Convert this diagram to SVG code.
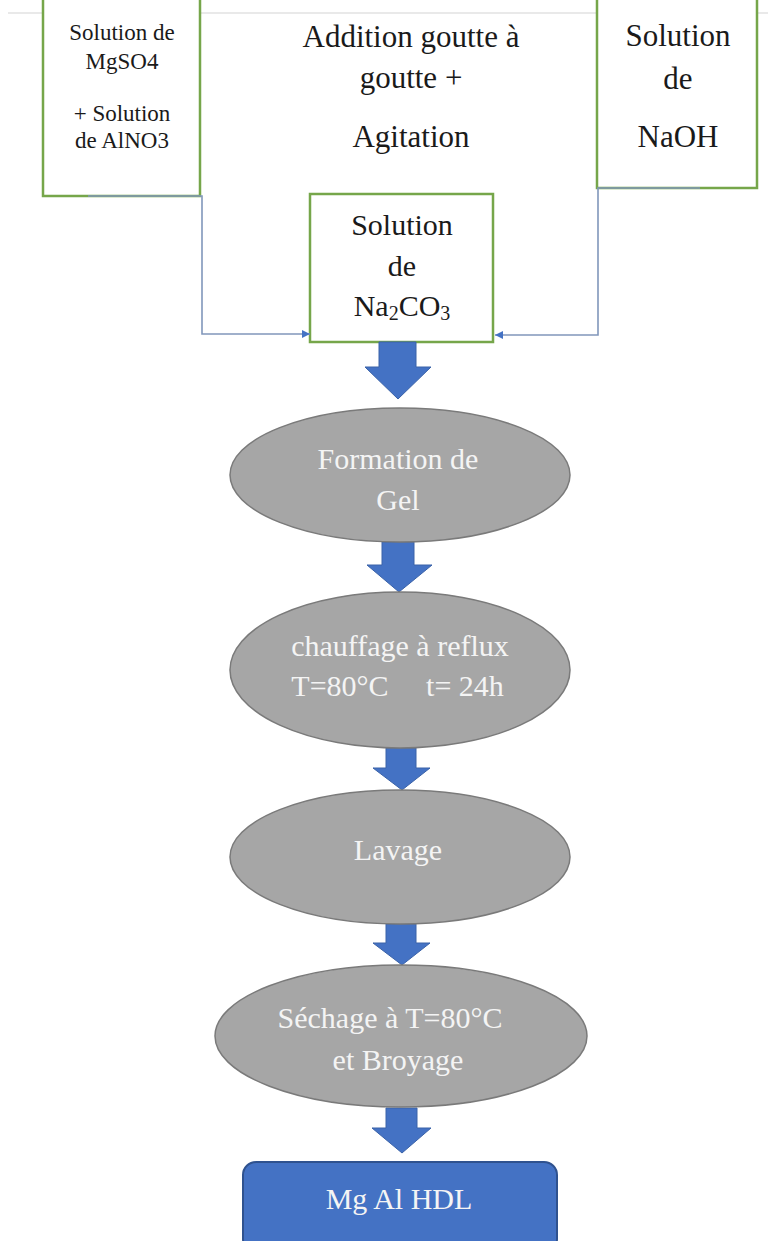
<svg xmlns="http://www.w3.org/2000/svg" width="768" height="1241" viewBox="0 0 768 1241">
<style>
.box{fill:#ffffff;stroke:#76a64a;stroke-width:2.5}
.ell{fill:#a6a6a6;stroke:#7a7a7a;stroke-width:1.5}
.blk{fill:#4472c4;stroke:#3a62a8;stroke-width:1}
.con{fill:none;stroke:#8197bb;stroke-width:1.6}
.t{text-anchor:middle;fill:#1a1a1a}
.w{text-anchor:middle;fill:#f4f4f4}
</style>
<defs>
<marker id="ah" viewBox="0 0 10 10" refX="10" refY="5" markerWidth="8" markerHeight="8" markerUnits="userSpaceOnUse" orient="auto">
<path d="M0,0 L10,5 L0,10 z" fill="#4472c4"/>
</marker>
</defs>
<rect width="768" height="1241" fill="#ffffff"/>
<line x1="8" y1="13" x2="768" y2="13" stroke="#e2e2e2" stroke-width="1.5"/>

<g id="mgso4">
<path class="box" d="M43,-5 L43,196 L200,196 L200,-5"/>
<text class="t" font-family="Liberation Serif" font-size="23"><tspan x="122" y="40">Solution de</tspan><tspan x="122" y="69">MgSO4</tspan><tspan x="122" y="121">+ Solution</tspan><tspan x="122" y="148">de AlNO3</tspan></text>
</g>

<g id="addition">
<text class="t" font-family="Liberation Serif" font-size="31"><tspan x="411" y="47">Addition goutte à</tspan><tspan x="411" y="88">goutte +</tspan><tspan x="411" y="147">Agitation</tspan></text>
</g>

<g id="naoh">
<path class="box" d="M597,-5 L597,188 L757,188 L757,-5"/>
<text class="t" font-family="Liberation Serif" font-size="31"><tspan x="678" y="46">Solution</tspan><tspan x="678" y="89">de</tspan><tspan x="678" y="147">NaOH</tspan></text>
</g>

<g id="na2co3">
<rect class="box" x="310" y="194" width="183" height="148"/>
<text class="t" font-family="Liberation Serif" font-size="30"><tspan x="402" y="235">Solution</tspan><tspan x="402" y="276">de</tspan><tspan x="402" y="316">Na<tspan font-size="20" dy="4">2</tspan><tspan dy="-4">CO</tspan><tspan font-size="20" dy="4">3</tspan></tspan></text>
</g>

<g id="connectors">
<path class="con" d="M88,196 L202,196 L202,334 L310,334" marker-end="url(#ah)"/>
<path class="con" d="M700,188 L598,188 L598,335 L495,335" marker-end="url(#ah)"/>
<path class="blk" d="M379,342 L416,342 L416,367 L431,367 L398,399 L365,367 L379,367 z"/>
<path class="blk" d="M382,542 L414,542 L414,565 L432,565 L399,592 L367,565 L382,565 z"/>
<path class="blk" d="M386,748 L416,748 L416,768 L430,768 L402,790 L373,768 L386,768 z"/>
<path class="blk" d="M386,924 L416,924 L416,943 L430,943 L402,965 L373,943 L386,943 z"/>
<path class="blk" d="M386,1108 L417,1108 L417,1128 L431,1128 L402,1153 L372,1128 L386,1128 z"/>
</g>

<g id="gel">
<ellipse class="ell" cx="400" cy="475" rx="170" ry="67"/>
<text class="w" font-family="Liberation Serif" font-size="30"><tspan x="398" y="469">Formation de</tspan><tspan x="398" y="510">Gel</tspan></text>
</g>

<g id="chauffage">
<ellipse class="ell" cx="400" cy="670" rx="170" ry="78"/>
<text class="w" font-family="Liberation Serif" font-size="30"><tspan x="400" y="656">chauffage à reflux</tspan></text>
<text class="w" font-family="Liberation Serif" font-size="30"><tspan x="340" y="696">T=80°C</tspan><tspan x="465" y="696">t= 24h</tspan></text>
</g>

<g id="lavage">
<ellipse class="ell" cx="400" cy="857" rx="170" ry="67"/>
<text class="w" font-family="Liberation Serif" font-size="30" x="398" y="860">Lavage</text>
</g>

<g id="sechage">
<ellipse class="ell" cx="401" cy="1036" rx="186" ry="71"/>
<text class="w" font-family="Liberation Serif" font-size="30"><tspan x="390" y="1028">Séchage à T=80°C</tspan><tspan x="398" y="1070">et Broyage</tspan></text>
</g>

<g id="hdl">
<rect x="243" y="1162" width="314" height="90" rx="13" fill="#4472c4" stroke="#2f528f" stroke-width="2"/>
<text class="w" font-family="Liberation Serif" font-size="30" x="399" y="1209">Mg Al HDL</text>
</g>
</svg>
